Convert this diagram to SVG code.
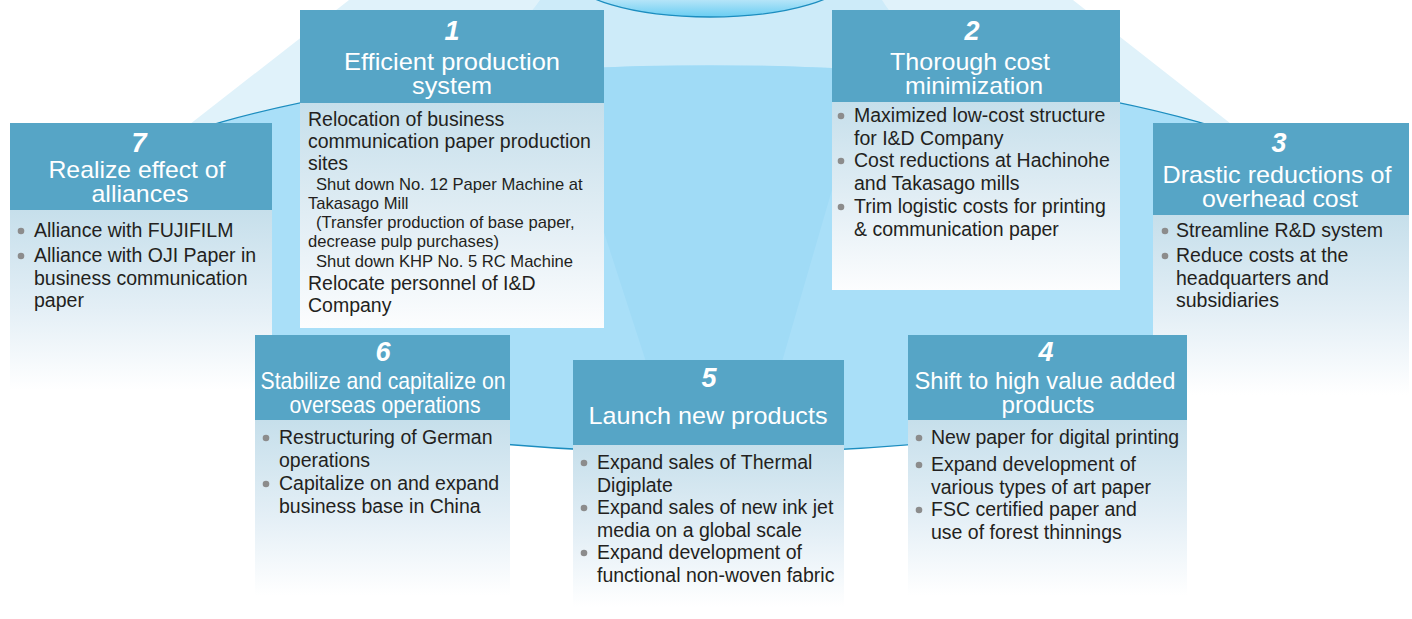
<svg xmlns="http://www.w3.org/2000/svg" width="1412" height="619" viewBox="0 0 1412 619">
  <defs>
    <style>
      .hd { fill: #56a5c6; }
      .num { font-family: "Liberation Sans", Arial, sans-serif; font-style: italic; font-weight: bold; font-size: 27px; fill: #ffffff; text-anchor: middle; }
      .ttl { font-family: "Liberation Sans", Arial, sans-serif; font-size: 24px; fill: #ffffff; text-anchor: middle; }
      .tx { font-family: "Liberation Sans", Arial, sans-serif; font-size: 19.5px; fill: #231f20; }
      .sm { font-size: 16.6px; }
      .dot { fill: #8c8c8c; }
      .solid { fill: url(#bodySolid); }
      .fade { fill: url(#bodyFade); }
    </style>
    <linearGradient id="bodySolid" x1="0" y1="0" x2="0" y2="1">
      <stop offset="0" stop-color="#c6dfeb"/>
      <stop offset="0.6" stop-color="#e6f0f6"/>
      <stop offset="1" stop-color="#fcfdfe"/>
    </linearGradient>
    <linearGradient id="bodyFade" x1="0" y1="0" x2="0" y2="1">
      <stop offset="0" stop-color="#c6dfeb"/>
      <stop offset="0.5" stop-color="#e4eff6"/>
      <stop offset="0.9" stop-color="#ffffff"/>
    </linearGradient>
    <linearGradient id="lampFill" gradientUnits="userSpaceOnUse" x1="0" y1="-20" x2="0" y2="17">
      <stop offset="0" stop-color="#d8f1fb"/>
      <stop offset="0.55" stop-color="#b3e4f8"/>
      <stop offset="1" stop-color="#68cdf2"/>
    </linearGradient>
    <linearGradient id="rimStroke" gradientUnits="userSpaceOnUse" x1="0" y1="68" x2="0" y2="98">
      <stop offset="0" stop-color="#1c8dbf" stop-opacity="0"/>
      <stop offset="1" stop-color="#1c8dbf" stop-opacity="1"/>
    </linearGradient>
    <clipPath id="discClip">
      <ellipse cx="710" cy="259" rx="690" ry="194"/>
    </clipPath>
  </defs>

  <rect width="1412" height="619" fill="#ffffff"/>

  <!-- backdrop: light cones, disc and top lamp -->
  <g id="backdrop">
    <polygon points="349,0 1073,0 1300,178 121,178" fill="#e0f2fa"/>
    <path d="M540,0 C520,30 470,70 420,120 L1000,120 C950,70 900,30 882,0 Z" fill="#cdebf9"/>
    <ellipse cx="710" cy="259" rx="690" ry="194" fill="#a9dff8" stroke="url(#rimStroke)" stroke-width="1.4"/>
    <polygon points="550,66 868,66 756,451 675,451" fill="#a0dbf6" clip-path="url(#discClip)"/>
    <ellipse cx="710" cy="-25" rx="140" ry="42" fill="url(#lampFill)" stroke="#1c8dbf" stroke-width="1.3"/>
  </g>

  <!-- 1 -->
  <g id="node1">
    <rect class="hd" x="300" y="10" width="304" height="93"/>
    <rect class="solid" x="300" y="103" width="304" height="225"/>
    <text class="num" x="452" y="40">1</text>
    <text class="ttl" x="452" y="70" textLength="216" lengthAdjust="spacingAndGlyphs">Efficient production</text>
    <text class="ttl" x="452" y="94" textLength="80" lengthAdjust="spacingAndGlyphs">system</text>
    <text class="tx" x="308" y="126">Relocation of business</text>
    <text class="tx" x="308" y="148">communication paper production</text>
    <text class="tx" x="308" y="170">sites</text>
    <text class="tx sm" x="316" y="190">Shut down No. 12 Paper Machine at</text>
    <text class="tx sm" x="308" y="209">Takasago Mill</text>
    <text class="tx sm" x="316" y="228">(Transfer production of base paper,</text>
    <text class="tx sm" x="308" y="247">decrease pulp purchases)</text>
    <text class="tx sm" x="316" y="267">Shut down KHP No. 5 RC Machine</text>
    <text class="tx" x="308" y="290">Relocate personnel of I&amp;D</text>
    <text class="tx" x="308" y="312">Company</text>
  </g>

  <!-- 2 -->
  <g id="node2">
    <rect class="hd" x="832" y="10" width="288" height="92"/>
    <rect class="solid" x="832" y="102" width="288" height="188"/>
    <text class="num" x="972" y="40">2</text>
    <text class="ttl" x="970" y="70" textLength="160" lengthAdjust="spacingAndGlyphs">Thorough cost</text>
    <text class="ttl" x="974" y="94" textLength="138" lengthAdjust="spacingAndGlyphs">minimization</text>
    <circle class="dot" cx="841" cy="116" r="3.3"/>
    <circle class="dot" cx="841" cy="161" r="3.3"/>
    <circle class="dot" cx="841" cy="207" r="3.3"/>
    <text class="tx" x="854" y="122">Maximized low-cost structure</text>
    <text class="tx" x="854" y="145">for I&amp;D Company</text>
    <text class="tx" x="854" y="167">Cost reductions at Hachinohe</text>
    <text class="tx" x="854" y="190">and Takasago mills</text>
    <text class="tx" x="854" y="213">Trim logistic costs for printing</text>
    <text class="tx" x="854" y="236">&amp; communication paper</text>
  </g>

  <!-- 7 -->
  <g id="node7">
    <rect class="hd" x="10" y="123" width="262" height="87"/>
    <rect class="fade" x="10" y="210" width="262" height="200"/>
    <text class="num" x="139" y="152">7</text>
    <text class="ttl" x="137" y="178" textLength="177" lengthAdjust="spacingAndGlyphs">Realize effect of</text>
    <text class="ttl" x="140" y="202" textLength="97" lengthAdjust="spacingAndGlyphs">alliances</text>
    <circle class="dot" cx="21" cy="231" r="3.3"/>
    <circle class="dot" cx="21" cy="256" r="3.3"/>
    <text class="tx" x="34" y="237">Alliance with FUJIFILM</text>
    <text class="tx" x="34" y="262">Alliance with OJI Paper in</text>
    <text class="tx" x="34" y="285">business communication</text>
    <text class="tx" x="34" y="307">paper</text>
  </g>

  <!-- 3 -->
  <g id="node3">
    <rect class="hd" x="1153" y="123" width="256" height="92"/>
    <rect class="fade" x="1153" y="215" width="256" height="200"/>
    <text class="num" x="1279" y="152">3</text>
    <text class="ttl" x="1277" y="183" textLength="229" lengthAdjust="spacingAndGlyphs">Drastic reductions of</text>
    <text class="ttl" x="1280" y="207" textLength="156" lengthAdjust="spacingAndGlyphs">overhead cost</text>
    <circle class="dot" cx="1165" cy="231" r="3.3"/>
    <circle class="dot" cx="1165" cy="256" r="3.3"/>
    <text class="tx" x="1176" y="237">Streamline R&amp;D system</text>
    <text class="tx" x="1176" y="262">Reduce costs at the</text>
    <text class="tx" x="1176" y="285">headquarters and</text>
    <text class="tx" x="1176" y="307">subsidiaries</text>
  </g>

  <!-- 6 -->
  <g id="node6">
    <rect class="hd" x="255" y="335" width="255" height="85"/>
    <rect class="fade" x="255" y="420" width="255" height="195"/>
    <text class="num" x="383" y="361">6</text>
    <text class="ttl" x="383" y="389" textLength="245" lengthAdjust="spacingAndGlyphs">Stabilize and capitalize on</text>
    <text class="ttl" x="385" y="413" textLength="191" lengthAdjust="spacingAndGlyphs">overseas operations</text>
    <circle class="dot" cx="266" cy="438" r="3.3"/>
    <circle class="dot" cx="266" cy="484" r="3.3"/>
    <text class="tx" x="279" y="444">Restructuring of German</text>
    <text class="tx" x="279" y="467">operations</text>
    <text class="tx" x="279" y="490">Capitalize on and expand</text>
    <text class="tx" x="279" y="513">business base in China</text>
  </g>

  <!-- 5 -->
  <g id="node5">
    <rect class="hd" x="573" y="360" width="271" height="85"/>
    <rect class="fade" x="573" y="445" width="271" height="180"/>
    <text class="num" x="709" y="387">5</text>
    <text class="ttl" x="708" y="424" textLength="239" lengthAdjust="spacingAndGlyphs">Launch new products</text>
    <circle class="dot" cx="584" cy="463" r="3.3"/>
    <circle class="dot" cx="584" cy="508" r="3.3"/>
    <circle class="dot" cx="584" cy="553" r="3.3"/>
    <text class="tx" x="597" y="469">Expand sales of Thermal</text>
    <text class="tx" x="597" y="492">Digiplate</text>
    <text class="tx" x="597" y="514">Expand sales of new ink jet</text>
    <text class="tx" x="597" y="537">media on a global scale</text>
    <text class="tx" x="597" y="559">Expand development of</text>
    <text class="tx" x="597" y="582">functional non-woven fabric</text>
  </g>

  <!-- 4 -->
  <g id="node4">
    <rect class="hd" x="908" y="335" width="279" height="85"/>
    <rect class="fade" x="908" y="420" width="279" height="195"/>
    <text class="num" x="1046" y="361">4</text>
    <text class="ttl" x="1045" y="389" textLength="261" lengthAdjust="spacingAndGlyphs">Shift to high value added</text>
    <text class="ttl" x="1048" y="413" textLength="93" lengthAdjust="spacingAndGlyphs">products</text>
    <circle class="dot" cx="919" cy="438" r="3.3"/>
    <circle class="dot" cx="919" cy="465" r="3.3"/>
    <circle class="dot" cx="919" cy="510" r="3.3"/>
    <text class="tx" x="931" y="444">New paper for digital printing</text>
    <text class="tx" x="931" y="471">Expand development of</text>
    <text class="tx" x="931" y="494">various types of art paper</text>
    <text class="tx" x="931" y="516">FSC certified paper and</text>
    <text class="tx" x="931" y="539">use of forest thinnings</text>
  </g>
</svg>
